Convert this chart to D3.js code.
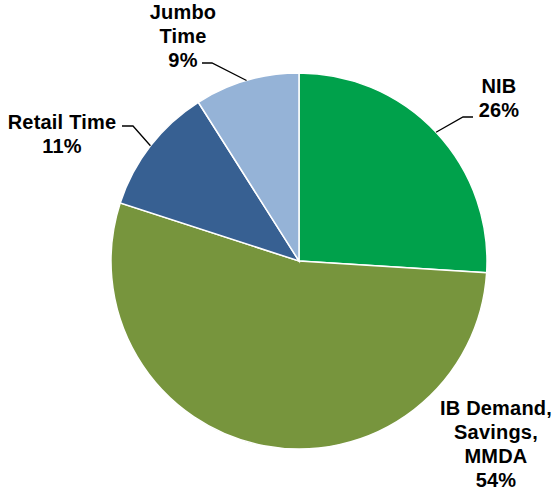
<!DOCTYPE html>
<html>
<head>
<meta charset="utf-8">
<script src="https://cdn.jsdelivr.net/npm/d3@7"></script>
<style>
  body { margin: 0; background: #fff; }
  text { font-family: "Liberation Sans", Arial, sans-serif; font-weight: bold; font-size: 20px; fill: #000; letter-spacing: 0.2px; }
</style>
</head>
<body>
<div id="chart"></div>
<script>
var width = 552;
var height = 491;

// data
var categories = ["NIB", "IB Demand, Savings, MMDA", "Retail Time", "Jumbo Time"];
var shares = [26, 54, 11, 9];
var colors = ["#00A14B", "#77953D", "#376092", "#95B3D7"];

// label text lines + where each label block sits
var labelLines = [["NIB", "26%"], ["IB Demand,", "Savings,", "MMDA", "54%"], ["Retail Time", "11%"], ["Jumbo", "Time", "9%"]];
var labelPos = [{x: 499, y: 93}, {x: 496, y: 415}, {x: 62, y: 129}, {x: 183, y: 19}];
// elbow of the leader line, null = no line
var elbows = [{x: 463, y: 117, end: 473}, null, {x: 133, y: 126, end: 122}, {x: 212, y: 63, end: 202}];

var cx = 299, cy = 261, radius = 188;
var lineH = 24;

var svg = d3.select("#chart")
  .append("svg")
    .attr("width", width)
    .attr("height", height);

var g = svg.append("g")
  .attr("transform", "translate(" + cx + "," + cy + ")");

var data = categories.map(function (c, i) { return {name: c, value: shares[i], i: i}; });

var pie = d3.pie()
  .sort(null)
  .value(function (d) { return d.value; });

var arc = d3.arc()
  .innerRadius(0)
  .outerRadius(radius);

var arcs = pie(data);

g.selectAll("path.slice")
  .data(arcs)
  .enter()
  .append("path")
    .attr("class", "slice")
    .attr("d", arc)
    .attr("fill", function (d) { return colors[d.data.i]; })
    .attr("stroke", "#fff")
    .attr("stroke-width", 1.5);

// leader lines, start on the rim at slice middle
arcs.forEach(function (d) {
  var e = elbows[d.data.i];
  if (!e) return;
  var mid = (d.startAngle + d.endAngle) / 2;
  var px = cx + radius * Math.sin(mid);
  var py = cy - radius * Math.cos(mid);
  svg.append("polyline")
    .attr("points", [[px, py], [e.x, e.y], [e.end, e.y]].map(function (p) { return p.join(","); }).join(" "))
    .attr("fill", "none")
    .attr("stroke", "#000")
    .attr("stroke-width", 1.3);
});

// labels
labelLines.forEach(function (lines, i) {
  var t = svg.append("text")
    .attr("text-anchor", "middle")
    .attr("x", labelPos[i].x)
    .attr("y", labelPos[i].y);
  lines.forEach(function (l, k) {
    t.append("tspan")
      .attr("x", labelPos[i].x)
      .attr("dy", k == 0 ? 0 : lineH)
      .text(l);
  });
});
</script>
</body>
</html>
